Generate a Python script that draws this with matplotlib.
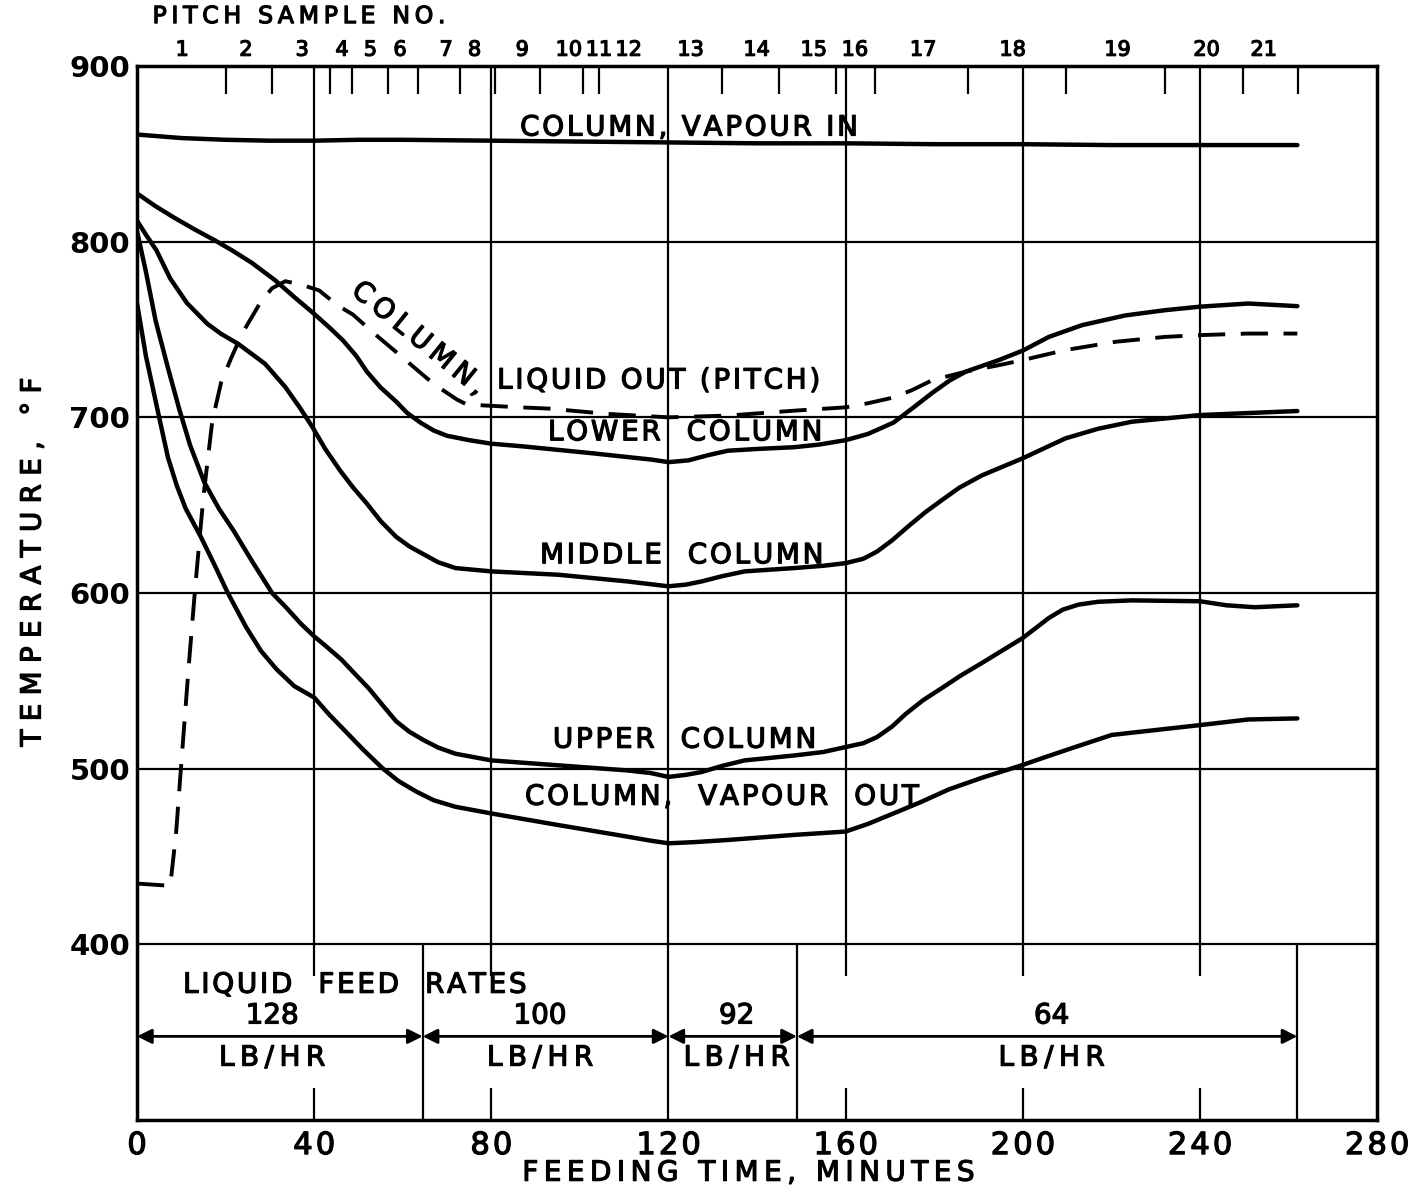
import numpy as np
import matplotlib.pyplot as plt
import matplotlib.patheffects as pe

# curves: feeding time (min) vs temperature (deg F)
t_vap_in = [0, 10, 20, 30, 40, 50, 60, 80, 100, 120, 140, 160, 180, 200, 220, 240, 262]
T_vap_in = [861, 859, 858, 857.5, 857.5, 858, 858, 857.5, 857, 856.5, 856, 856, 855.5, 855.5, 855, 855, 855]

t_lower = [0, 4, 8.3, 13, 17.4, 21.5, 25.9, 31.2, 35.5, 40, 43.5, 46.5, 49.5, 51.9, 55, 58.5, 61, 64, 67,
           70, 75, 80, 87, 95, 103, 110.7, 116, 120, 124.5, 129, 133.4, 140, 148.4, 154, 160, 165, 170.8,
           175, 179.6, 183.5, 187.1, 194.6, 200, 205.9, 213.4, 223.1, 232.1, 240, 250.9, 262]
T_lower = [827.5, 820.5, 813.8, 807, 801, 795, 788, 778, 768.5, 758.9, 751, 743.8, 735, 726, 717, 709,
           702.5, 697, 692.5, 689.5, 687, 685, 683.5, 681.5, 679.5, 677.4, 676, 674.5, 675.5, 678.5, 681, 682,
           683, 684.5, 687, 690.5, 697, 705, 714, 721, 726, 732.6, 738, 745.8, 752.5, 758, 761, 763, 764.8, 763.3]

t_middle = [0, 2, 4.4, 7.5, 11.3, 15.9, 19, 22.8, 28.9, 33.5, 36.9, 39.6, 42.5, 45.8, 48.8, 51.9, 55, 58.5,
            61.5, 64.6, 68, 71.9, 80, 95.1, 110.7, 116, 120, 124, 127.5, 132, 137.2, 148.4, 155, 160, 164,
            167.1, 170.5, 174.5, 178, 181.8, 185.7, 190.8, 200, 209.6, 217, 224.6, 240, 262]
T_middle = [812, 804, 795, 779, 765, 753.2, 747.5, 741.9, 730.5, 717.2, 705, 694.5, 682, 669.9, 660, 650.9,
            641, 632, 626.5, 622.2, 617.5, 614.2, 612.3, 610.4, 606.6, 605, 603.8, 604.8, 606.6, 609.5, 612.3,
            614.2, 615.5, 617, 619.5, 623.6, 630, 638.7, 646, 653, 660, 667, 676.7, 688, 693.5, 697.5, 701.3, 703.6]

t_upper = [0, 2, 4.2, 7, 9.5, 12, 15.2, 18.5, 21.8, 26, 30.5, 33.8, 37, 40, 43, 46.2, 49, 52.3, 55.5, 58.5,
           61.5, 64.6, 68, 71.9, 80, 95.1, 110.7, 116, 120, 124, 127.5, 132, 137.2, 148.4, 155, 160, 164,
           167.1, 170.5, 173.5, 177.5, 181.8, 186, 190.8, 200, 205.9, 209, 212.6, 217, 224.6, 240, 246, 252.4, 262]
T_upper = [806, 783, 755, 728, 705, 684, 663, 648, 635.5, 618, 600, 591.4, 582.5, 575.3, 569, 562, 554.5, 545.8,
           536, 527, 521, 516.4, 512, 508.5, 504.7, 501.9, 499, 497.5, 495.3, 496.5, 498.1, 501.5, 504.7, 507.5,
           509.5, 512.3, 514.5, 518, 524, 531, 539, 546, 553, 560.2, 574.4, 585.8, 590.5, 593.4, 595, 595.8,
           595.3, 593, 591.9, 593]

t_vap_out = [0, 2, 5, 7, 9, 11, 14.4, 17.5, 20.5, 24.6, 28, 31.5, 35.5, 40, 43.5, 46.9, 51, 55.4, 59, 63.1,
             67, 71.9, 80, 95.1, 110.7, 116, 120, 126, 133.4, 148.4, 160, 165, 170.8, 177, 183.3, 191, 199.5,
             205, 211.1, 220.1, 233.6, 240, 250.9, 262]
T_vap_out = [765, 735, 700, 677, 661, 648, 632, 616, 600, 580.7, 567, 556.6, 547, 540.5, 530.5, 521.7, 511,
             500.3, 493, 486.9, 482, 478.3, 474.5, 467.9, 461.3, 459, 457.5, 458.2, 459.4, 462.3, 464.2, 468.5,
             474.5, 481, 488.2, 495, 501.7, 506.5, 511.7, 519.2, 523, 524.8, 528, 528.6]

t_pitch = [0, 7.5, 8.8, 10, 11.6, 13.2, 15, 17, 19, 21.3, 23.8, 25.9, 28, 30.5, 33.5, 37.1, 41.1, 45.3, 48.7,
           53.8, 57.8, 64.4, 67.1, 72.2, 74.4, 78.2, 86.4, 92.9, 106, 120, 133.4, 148.4, 160, 165, 170.8, 175,
           179.6, 187.1, 194.6, 200, 209.6, 220.9, 232.1, 240, 250.9, 262]
T_pitch = [434.6, 433.3, 462.7, 503, 556, 605, 655, 698, 720, 734, 748, 757, 766, 773.5, 777.5, 775.5, 772.3,
           763.7, 758.6, 747.2, 738.7, 724.5, 718.8, 710.2, 707.4, 706.8, 705.7, 705, 702, 700, 701, 703.8,
           705.7, 708, 711.3, 715.5, 721.2, 726, 729.7, 732.6, 738.3, 743, 745.8, 746.8, 747.7, 747.7]

# pitch sample numbers along the top
sample_labels = [str(i) for i in range(1, 22)]
sample_label_x = [10.2, 24.6, 37.3, 46.3, 52.7, 59.4, 69.8, 76.2, 87.0, 97.5, 104.3, 111.0, 125,
                  139.9, 152.8, 162.1, 177.5, 197.7, 221.4, 241.5, 254.4]
sample_ticks = [20.1, 30.5, 43.6, 48.6, 56.7, 63.5, 73.0, 80.9, 90.9, 100.8, 104.4, 132.1, 145.0,
                157.9, 166.7, 187.6, 209.8, 232.2, 249.8, 262.2]

# liquid feed rate periods
feed_edges = [0, 64.5, 120, 149, 262]
feed_rates = ['128', '100', '92', '64']
feed_label_x = [30.5, 91, 135.4, 206.5]

xticks = [0, 40, 80, 120, 160, 200, 240, 280]
yticks = [400, 500, 600, 700, 800, 900]


def spaced(s, n=1):
    # lettering on the original is widely spaced
    return ('\u200a' * n).join(s)


ink = [pe.withStroke(linewidth=0.9, foreground='k')]

plt.rcParams['font.family'] = ['DejaVu Sans']
fig = plt.figure(figsize=(14.14, 11.94), dpi=100)
ax = fig.add_axes([0.0969, 0.062, 0.877, 0.8827])
ax.set_xlim(0, 280)
ax.set_ylim(300, 900)

# grid
ax.hlines([400, 500, 600, 700, 800], 0, 280, color='k', lw=1.6)
ax.vlines([40, 80, 160, 200, 240], 400, 900, color='k', lw=1.6)
ax.vlines(120, 300, 900, color='k', lw=1.6)
ax.vlines([64.5, 149, 262], 300, 400, color='k', lw=1.6)
ax.vlines([40, 80, 160, 200, 240], 382, 400, color='k', lw=1.6)
ax.vlines([40, 80, 160, 200, 240], 300, 318, color='k', lw=1.6)
ax.vlines(sample_ticks, 884, 900, color='k', lw=1.6)

# curves
lw = 3.2
kw = dict(color='k', lw=lw, solid_joinstyle='round', solid_capstyle='round')
ax.plot(t_vap_in, T_vap_in, **kw)
ax.plot(t_lower, T_lower, **kw)
ax.plot(t_middle, T_middle, **kw)
ax.plot(t_upper, T_upper, **kw)
ax.plot(t_vap_out, T_vap_out, **kw)
ax.plot(t_pitch, T_pitch, color='k', lw=2.8, dashes=(7, 4))

# curve labels
fs = 20
lab = dict(fontsize=fs, va='center', path_effects=ink)
ax.text(86.5, 865, spaced('COLUMN, VAPOUR IN'), **lab)
ax.text(63.6, 745, spaced('COLUMN,', 2), rotation=-39, ha='center', rotation_mode='anchor', **lab)
ax.text(81.3, 721, spaced('LIQUID OUT (PITCH)'), **lab)
ax.text(92.8, 691.5, spaced('LOWER  COLUMN'), **lab)
ax.text(91, 621.5, spaced('MIDDLE  COLUMN'), **lab)
ax.text(93.9, 516.5, spaced('UPPER  COLUMN'), **lab)
ax.text(87.6, 484, spaced('COLUMN,  VAPOUR  OUT'), **lab)

# feed rate box
ax.text(10.4, 377, spaced('LIQUID  FEED  RATES'), **lab)
for i, rate in enumerate(feed_rates):
    ax.annotate('', xy=(feed_edges[i + 1], 347.6), xytext=(feed_edges[i], 347.6),
                arrowprops=dict(arrowstyle='<|-|>', color='k', lw=2, mutation_scale=22,
                                shrinkA=0, shrinkB=0))
    ax.text(feed_label_x[i], 359.5, rate, ha='center', **lab)
    ax.text(feed_label_x[i], 335.5, spaced('LB/HR', 2), ha='center', **lab)

# top pitch sample axis
top = ax.get_xaxis_transform()
for x, s in zip(sample_label_x, sample_labels):
    ax.text(x, 1.006, s, transform=top, fontsize=15, ha='center', va='bottom', path_effects=ink)
ax.text(3.5, 1.036, spaced('PITCH SAMPLE NO.', 2), transform=top, fontsize=17, ha='left',
        va='bottom', path_effects=ink)

# axes, ticks
ax.set_xticks(xticks)
ax.set_xticklabels([spaced(str(v), 1) for v in xticks], fontsize=22, path_effects=ink)
ax.set_yticks(yticks)
ax.set_yticklabels([str(v) for v in yticks], fontsize=21, fontweight='bold')
ax.tick_params(axis='x', length=0, pad=8)
ax.tick_params(axis='y', length=0, pad=5)
for s in ax.spines.values():
    s.set_linewidth(2.5)
ax.text(138, -0.05, spaced('FEEDING TIME, MINUTES', 2), transform=top, fontsize=20,
        ha='center', va='center', path_effects=ink)
fig.text(0.023, 0.529, spaced('TEMPERATURE, °F', 3), rotation=90, fontsize=20, ha='center',
         va='center', path_effects=ink)

fig.savefig('out.png', dpi=100)
